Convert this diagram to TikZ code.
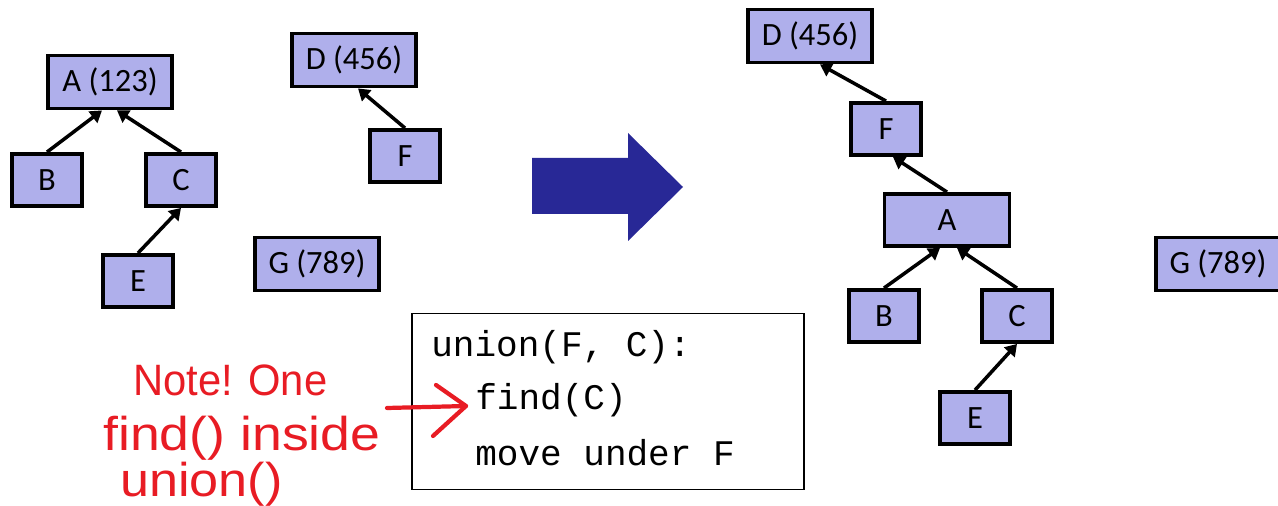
\documentclass[tikz,border=0pt]{standalone}
\usepackage{fontspec}
\setmainfont{Carlito}
\newfontfamily\codefont{Liberation Mono}
\newfontfamily\handfont{Liberation Sans}
\usetikzlibrary{arrows.meta,calc}
\definecolor{boxfill}{RGB}{175,175,235}
\definecolor{bigblue}{RGB}{40,40,150}
\definecolor{penred}{RGB}{232,28,36}
\begin{document}
\begin{tikzpicture}[x=0.02cm,y=-0.02cm,
  box/.style={draw=black,line width=2.2pt,fill=boxfill,inner sep=0pt,
    minimum width=1.40cm,minimum height=1.04cm,font=\fontsize{18.5}{20}\selectfont},
  widebox/.style={box,minimum width=2.48cm,minimum height=1.06cm},
  link/.style={line width=2pt,-{Triangle[length=6.5pt,width=8pt]}},
  codebox/.style={draw=black,line width=1.1pt,minimum width=7.84cm,minimum height=3.52cm,inner sep=0pt},
  codeline/.style={anchor=west,inner sep=0pt,font=\codefont\fontsize{20.5}{22}\selectfont},
  hand/.style={anchor=base west,inner sep=0pt,text=penred},
  penstroke/.style={draw=penred,line width=2.4pt,line cap=round,line join=round}]
\useasboundingbox (0,0) rectangle (1278,506);

% left: before union
\node[widebox] (lA) at (110,82) {A (123)};
\node[box] (lB) at (47,180) {B};
\node[box] (lC) at (181,180) {C};
\node[box] (lE) at (138,281) {E};
\node[widebox] (lD) at (354,60) {D (456)};
\node[box] (lF) at (405,156) {F};
\node[widebox] (lG) at (317,264) {G (789)};
\draw[link] (lB.north) -- ($(lA.south)+(-8,0)$);
\draw[link] (lC.north) -- ($(lA.south)+(7,0)$);
\draw[link] (lE.north) -- (lC.south);
\draw[link] (lF.north) -- ($(lD.south)+(4,0)$);

% big arrow
\fill[bigblue] (532,158) -- (628,158) -- (628,133) -- (683,187) -- (628,241) -- (628,214) -- (532,214) -- cycle;

% right: after union
\node[widebox] (rD) at (810,36) {D (456)};
\node[box] (rF) at (886,129) {F};
\node[widebox,minimum width=2.5cm,minimum height=1.04cm] (rA) at (947,220) {A};
\node[box] (rB) at (884,316) {B};
\node[box] (rC) at (1017,316) {C};
\node[box] (rE) at (975,418) {E};
\node[widebox] (rG) at (1218,264) {G (789)};
\draw[link] (rF.north) -- ($(rD.south)+(10,0)$);
\draw[link] (rA.north) -- ($(rF.south)+(7,0)$);
\draw[link] (rB.north) -- ($(rA.south)+(-7,0)$);
\draw[link] (rC.north) -- ($(rA.south)+(10,0)$);
\draw[link] (rE.north) -- (rC.south);

% code box
\node[codebox] (code) at (608,401.5) {};
\node[codeline] (c1) at (431,347) {union(F, C):};
\node[codeline] (c2) at (475,400) {find(C)};
\node[codeline] (c3) at (475,453) {move under F};

% handwritten note
\node[hand,font=\handfont\fontsize{25}{27}\selectfont] (n1) at (133,396) {\scalebox{0.95}[1]{Note! One}};
\node[hand,font=\handfont\fontsize{27}{29}\selectfont] (n2) at (103,451) {\scalebox{1.13}[1]{find() inside}};
\node[hand,font=\handfont\fontsize{27}{29}\selectfont] (n3) at (120,497) {\scalebox{1.1}[1]{union()}};
\coordinate (rs) at (387,408);
\coordinate (rt) at (466,406);
\coordinate (rh1) at (436,385);
\coordinate (rh2) at (433,436);
\draw[penstroke] (rs) -- (rt);
\draw[penstroke] (rh1) -- (rt) -- (rh2);
\end{tikzpicture}
\end{document}
